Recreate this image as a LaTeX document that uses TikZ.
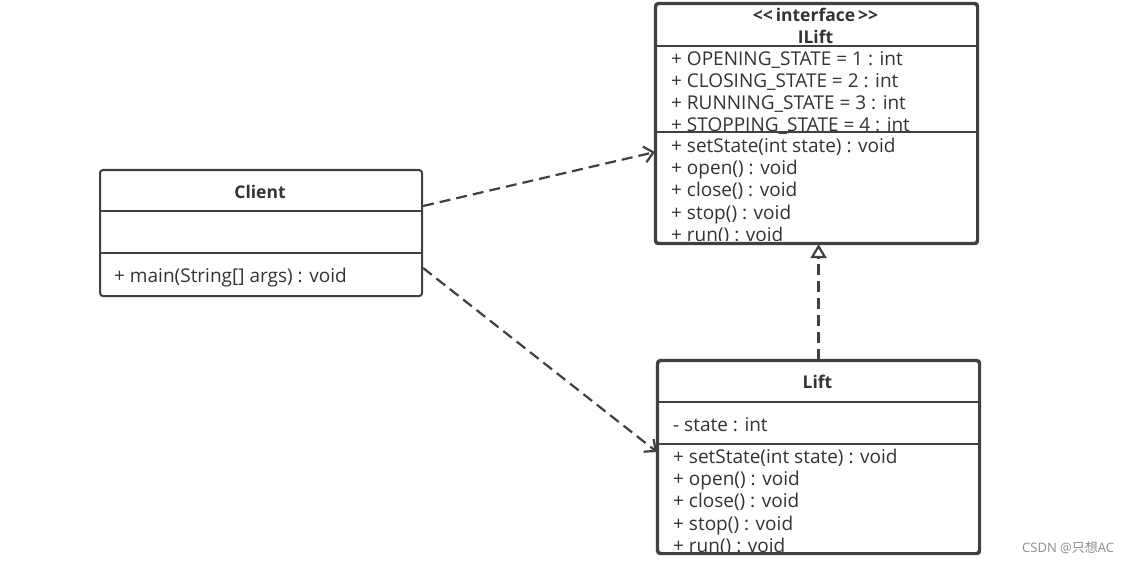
\documentclass[tikz,border=0pt]{standalone}
\usepackage{fontspec}
\setmainfont{Open Sans}
\newfontfamily\cjkfont{Noto Sans CJK SC}
\usetikzlibrary{arrows.meta}
\definecolor{ln}{HTML}{404040}
\definecolor{tx}{HTML}{333333}
\tikzset{
  x=1pt,y=-1pt,
  umlbox/.style={draw=ln,line width=2.1pt,rounded corners=3pt,fill=white,inner sep=0pt,anchor=north west},
  sep/.style={draw=ln,line width=2.1pt},
  row/.style={anchor=base west,inner sep=0pt,text=tx,font=\fontsize{19}{22}\selectfont},
  title/.style={anchor=base,inner sep=0pt,text=tx,font=\bfseries\fontsize{17.5}{22}\selectfont},
  dep/.style={draw=ln,line width=2.2pt,dash pattern=on 11pt off 6pt,-{Straight Barb[length=9pt,width=16pt,line width=2.2pt]}},
  real/.style={draw=ln,line width=2.2pt,dash pattern=on 11pt off 6pt,-{Triangle[open,length=14pt,width=16pt,line width=2.2pt]}}
}
\begin{document}
\begin{tikzpicture}
\useasboundingbox (0,0) rectangle (1133,564);
% ILift
\node[umlbox,minimum width=321pt,minimum height=239pt] (ilift) at (655,3) {};
\begin{scope}
\clip (656,4) rectangle (975,241);
\node[title] (ilst) at (815.5,22) {<{}<\,interface\,>{}>};
\node[title] (ilnm) at (815.5,44) {ILift};
\node[row] (ila1) at (671,65.5) {+ OPENING\_STATE = 1 : int};
\node[row] (ila2) at (671,87.5) {+ CLOSING\_STATE = 2 : int};
\node[row] (ila3) at (671,109.5) {+ RUNNING\_STATE = 3 : int};
\node[row] (ila4) at (671,131.5) {+ STOPPING\_STATE = 4 : int};
\node[row] (ilm1) at (671,152.5) {+ setState(int state) : void};
\node[row] (ilm2) at (671,174.5) {+ open() : void};
\node[row] (ilm3) at (671,196.5) {+ close() : void};
\node[row] (ilm4) at (671,219.5) {+ stop() : void};
\node[row] (ilm5) at (671,241.5) {+ run() : void};
\end{scope}
\draw[sep] (ilift.west |- 0,46) -- (ilift.east |- 0,46);
\draw[sep] (ilift.west |- 0,132) -- (ilift.east |- 0,132);
\draw[draw=ln,line width=2.1pt,rounded corners=3pt] (ilift.north west) rectangle (ilift.south east);
% Client
\node[umlbox,minimum width=322pt,minimum height=126pt] (client) at (99,169) {};
\node[title] (clnm) at (260,198.5) {Client};
\node[row] (clm1) at (114,282.5) {+ main(String[] args) : void};
\draw[sep] (client.west |- 0,211) -- (client.east |- 0,211);
\draw[sep] (client.west |- 0,253) -- (client.east |- 0,253);
% Lift
\node[umlbox,minimum width=321pt,minimum height=192pt] (lift) at (657,360) {};
\begin{scope}
\clip (658,361) rectangle (977,551);
\node[title] (lfnm) at (817.5,388.5) {Lift};
\node[row] (lfa1) at (673,431.5) {- state : int};
\node[row] (lfm1) at (673,463.5) {+ setState(int state) : void};
\node[row] (lfm2) at (673,485.5) {+ open() : void};
\node[row] (lfm3) at (673,507.5) {+ close() : void};
\node[row] (lfm4) at (673,530.5) {+ stop() : void};
\node[row] (lfm5) at (673,552.5) {+ run() : void};
\end{scope}
\draw[sep] (lift.west |- 0,402) -- (lift.east |- 0,402);
\draw[sep] (lift.west |- 0,444) -- (lift.east |- 0,444);
\draw[draw=ln,line width=2.1pt,rounded corners=3pt] (lift.north west) rectangle (lift.south east);
% connectors
\draw[dep] (client.east |- 0,206) -- (ilift.west |- 0,152);
\draw[dep] (client.east |- 0,268) -- (lift.west |- 0,452);
\draw[real] (lift.north) -- (lift.north |- ilift.south);
% watermark
\node[anchor=base west,inner sep=0pt,text=black!45,font=\fontsize{13}{15}\selectfont] (wm) at (1022,552) {CSDN @{\cjkfont 只想}AC};
\end{tikzpicture}
\end{document}
